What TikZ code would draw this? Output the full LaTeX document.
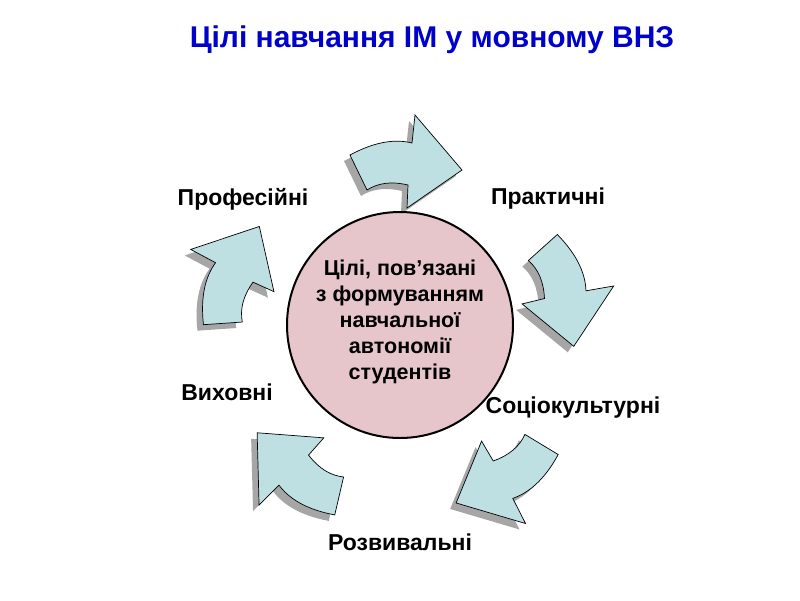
\documentclass[tikz,border=0pt]{standalone}
\usepackage{fontspec}
\setmainfont{Liberation Sans}
\begin{document}
\begin{tikzpicture}[x=1pt,y=-1pt,
  lbl/.style={font=\fontsize{23}{26}\selectfont\bfseries},
  arr/.style={fill=arrowcol,draw=black,line width=0.7pt,line join=miter},
  shd/.style={fill=black!35}]
\definecolor{arrowcol}{HTML}{BFE0E3}
\definecolor{circcol}{HTML}{E6C6CB}
\definecolor{titleblue}{HTML}{0000CC}
\useasboundingbox (0,0) rectangle (800,600);
\def\arrowpath{(-56,-6) .. controls (-30,-20) and (-10,-22) .. (6,-18) -- (9,-46) -- (56,9) -- (1,47) -- (2,24) .. controls (-15,20) and (-28,22) .. (-39,29) -- cycle}
\foreach \px/\py/\r in {406/161/0, 567/290/74, 508/480/147, 295/475/219, 230/275/292}{
  \fill[shd,shift={(\px-6,\py+6)},rotate=-\r] \arrowpath;
  \filldraw[arr,shift={(\px,\py)},rotate=-\r] \arrowpath;
}
\node[circle,minimum size=226pt,fill=circcol,draw=black,line width=2pt] (c) at (400,325) {};
\node[align=center,font=\fontsize{21.5}{26}\selectfont\bfseries] (ct) at (400,322) {Цілі, пов'язані\\з формуванням\\навчальної\\автономії\\студентів};
\node[font=\fontsize{30}{34}\selectfont\bfseries,text=titleblue] (t) at (432,40) {Цілі навчання ІМ у мовному ВНЗ};
\node[lbl] (l1) at (243,199) {Професійні};
\node[lbl] (l2) at (548,199) {Практичні};
\node[lbl] (l3) at (573,408) {Соціокультурні};
\node[lbl] (l4) at (400,542) {Розвивальні};
\node[lbl] (l5) at (227,392) {Виховні};
\end{tikzpicture}
\end{document}
